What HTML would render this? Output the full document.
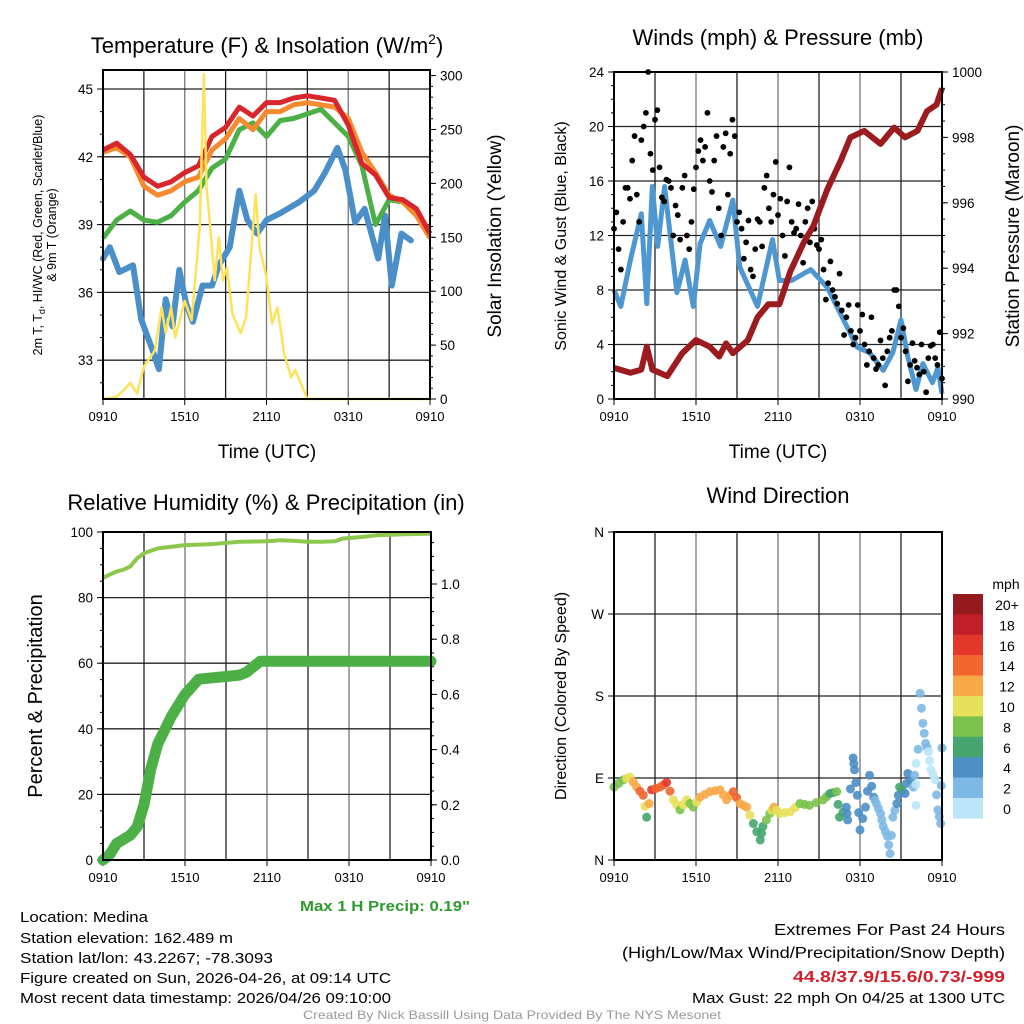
<!DOCTYPE html>
<html><head><meta charset="utf-8">
<style>
html,body{margin:0;padding:0;background:#fff;}
svg{display:block;font-family:"Liberation Sans",sans-serif;}
</style></head>
<body>
<svg id="fig" width="1024" height="1024" viewBox="0 0 1024 1024" xmlns="http://www.w3.org/2000/svg">
<rect width="1024" height="1024" fill="#fff"/>
<g id="p1"></g>
<g id="p2"></g>
<g id="p3"></g>
<g id="p4"></g>

<text x="267" y="53" font-size="22" text-anchor="middle">Temperature (F) &amp; Insolation (W/m<tspan dy="-9" font-size="14">2</tspan><tspan dy="9">)</tspan></text>
<text x="778" y="45" font-size="22" text-anchor="middle">Winds (mph) &amp; Pressure (mb)</text>
<text x="266" y="510" font-size="22" text-anchor="middle">Relative Humidity (%) &amp; Precipitation (in)</text>
<text x="778" y="503" font-size="22" text-anchor="middle">Wind Direction</text>

<text x="267" y="458" font-size="19" text-anchor="middle">Time (UTC)</text>
<text x="778" y="458" font-size="19" text-anchor="middle">Time (UTC)</text>

<text transform="translate(42,235) rotate(-90)" font-size="12.5" text-anchor="middle">2m T, T<tspan dy="3" font-size="9">d</tspan><tspan dy="-3">, HI/WC (Red, Green, Scarlet/Blue)</tspan></text>
<text transform="translate(56,235) rotate(-90)" font-size="12.5" text-anchor="middle">&amp; 9m T (Orange)</text>
<text transform="translate(501,236) rotate(-90)" font-size="19" text-anchor="middle">Solar Insolation (Yellow)</text>
<text transform="translate(566,236) rotate(-90)" font-size="16" text-anchor="middle">Sonic Wind &amp; Gust (Blue, Black)</text>
<text transform="translate(1019,236) rotate(-90)" font-size="19" text-anchor="middle">Station Pressure (Maroon)</text>
<text transform="translate(42,696) rotate(-90)" font-size="20" text-anchor="middle">Percent &amp; Precipitation</text>
<text transform="translate(566,696) rotate(-90)" font-size="16" text-anchor="middle">Direction (Colored By Speed)</text>

<text x="470" y="911" font-size="15" font-weight="bold" fill="#2e9a2e" text-anchor="end" textLength="170" lengthAdjust="spacingAndGlyphs">Max 1 H Precip: 0.19"</text>

<g font-size="15">
<text x="20" y="922" textLength="128" lengthAdjust="spacingAndGlyphs">Location: Medina</text>
<text x="20" y="943" textLength="213" lengthAdjust="spacingAndGlyphs">Station elevation: 162.489 m</text>
<text x="20" y="963" textLength="253" lengthAdjust="spacingAndGlyphs">Station lat/lon: 43.2267; -78.3093</text>
<text x="20" y="983" textLength="371" lengthAdjust="spacingAndGlyphs">Figure created on Sun, 2026-04-26, at 09:14 UTC</text>
<text x="20" y="1003" textLength="371" lengthAdjust="spacingAndGlyphs">Most recent data timestamp: 2026/04/26 09:10:00</text>
</g>
<g font-size="16" text-anchor="end">
<text x="1005" y="935" textLength="231" lengthAdjust="spacingAndGlyphs">Extremes For Past 24 Hours</text>
<text x="1005" y="958" textLength="383" lengthAdjust="spacingAndGlyphs">(High/Low/Max Wind/Precipitation/Snow Depth)</text>
<text x="1005" y="982" font-weight="bold" fill="#d0202a" textLength="212" lengthAdjust="spacingAndGlyphs">44.8/37.9/15.6/0.73/-999</text>
<text x="1005" y="1003" font-size="15" textLength="313" lengthAdjust="spacingAndGlyphs">Max Gust: 22 mph On 04/25 at 1300 UTC</text>
</g>
<text x="512" y="1019" font-size="12" fill="#999" text-anchor="middle" textLength="418" lengthAdjust="spacingAndGlyphs">Created By Nick Bassill Using Data Provided By The NYS Mesonet</text>

<g id="cbar"></g>
</svg>
<script>
// ---- data (hours since 0910 UTC) ----
const hourTicks = [0, 6, 12, 18, 24];
const timeLabels = ["0910", "1510", "2110", "0310", "0910"];
const tempHours = [0,1,2,3,4,5,6,7,8,9,10,11,12,13,14,15,16,17,18,19,20,21,22,23,24];
const tempRed = [42.3,42.6,42.1,41.1,40.7,40.9,41.3,41.6,42.9,43.3,44.2,43.8,44.4,44.4,44.6,44.7,44.6,44.5,43.4,41.7,41.2,40.2,40.1,39.7,38.6];
const tempOrange = [42.2,42.4,42.0,40.7,40.3,40.5,40.9,41.1,42.3,42.8,43.7,43.2,44.0,44.0,44.3,44.4,44.3,44.2,43.7,42.2,41.3,40.3,40.0,39.4,38.4];
const tempGreen = [38.4,39.2,39.6,39.2,39.1,39.4,40.0,40.5,41.5,41.9,43.2,43.5,42.9,43.6,43.7,43.9,44.1,43.5,42.9,41.6,39.0,40.1,40.0,39.5,38.6];
const dewHours = [0,0.5,1.2,2.2,2.8,3.6,4.1,4.6,5.1,5.6,6.1,6.6,7.3,8,8.5,9.3,10,10.6,11.3,12,13,14.4,15.5,16.3,17.2,17.8,18.5,19.2,20.2,20.7,21.2,21.9,22.6];
const dewPoint = [37.5,38.0,36.9,37.2,34.8,33.5,32.6,35.7,34.5,37.0,35.5,34.7,36.3,36.3,37.2,38.0,40.5,39.2,38.6,39.2,39.5,40.0,40.5,41.3,42.4,41.4,39.1,39.7,37.5,39.4,36.3,38.6,38.3];
const solarHours = [0,1,1.5,2,2.5,3,3.8,4.3,4.6,5.0,5.3,6.0,6.5,7.1,7.4,7.6,7.9,8.2,8.5,8.8,9.1,9.5,10.1,10.5,10.9,11.2,11.5,12,12.4,12.8,13.3,13.8,14.1,15,24];
const solarVals = [0,2,8,15,5,30,45,85,61,85,57,91,73,159,301,196,156,110,150,110,122,79,61,76,140,190,140,113,70,85,42,20,27,0,0];
const windHours = [0,0.5,1.2,2,2.4,2.8,3.2,3.7,4.6,5.2,5.8,6.3,7,7.8,8.7,9.2,10.5,11.6,12.1,13,14.4,15.6,16.8,17.8,18.7,19.7,20.4,21,21.5,22.1,22.6,23.3,23.7,24];
const windSpeed = [8.0,6.8,10.2,13.6,7.0,15.6,11.2,15.6,7.8,10.2,6.8,11.4,13.1,11.2,14.6,9.7,6.8,11.7,8.7,8.7,9.5,8.2,5.8,3.8,3.4,2.1,3.4,5.8,3.1,0.7,2.6,1.2,2.3,0.4];
const gustSpeed = [12.5,11,13,15.5,17.5,15,19,21,18,20.5,17,14.5,16,12,13.5,15.5,12,13,17,19,18.5,16,17.5,14,18.5,15,20.5,13,12.5,11.5,9.5,11,13,15.5,14,15,13.5,12,14.5,13,12.5,12,13,11.5,12.5,11,9.5,8.5,8,7,6.5,6,5,4.5,5,4,3.5,3,2.5,3,3.5,5,8,4.5,3.5,2.5,2.8,1.8,2,3,4,2.5,1.5];
const gustSpread = [1.2,-1.5,2.5,-0.8,1.8,-2,1,3,-1.2,0.7,-2.2,1.6,-0.5,2.2,-1.8,0.9,-1,2.4];
const pressHours = [0,1.2,2,2.4,2.8,3.9,5,6,7,7.7,8.2,8.7,9.8,10.5,11.3,12.1,12.9,13.9,14.6,15.6,16.6,17.3,18.3,19.5,20.5,21.3,22.2,22.9,23.6,24];
const pressure = [990.95,990.8,990.9,991.6,990.9,990.7,991.4,991.8,991.6,991.3,991.7,991.4,991.8,992.5,992.9,992.9,993.9,994.8,995.3,996.4,997.3,998.0,998.2,997.8,998.3,998.0,998.2,998.8,999.0,999.5];
const rhHours = [0,0.5,1,1.5,2,2.5,3,4,6,8,10,12,13,14,15,16,17,17.5,19,20,22,24];
const rhVals = [86,87,88,88.5,89.5,92,93.5,95,96,96.3,97,97.2,97.5,97.3,97,97,97.2,98,98.5,99,99.3,99.5];
const precipHours = [0,0.5,1,2,2.5,3,3.5,4,5,6,7,8,9,10,10.5,11,11.5,24];
const precipVals = [0,0.02,0.06,0.09,0.12,0.2,0.33,0.42,0.52,0.6,0.655,0.66,0.665,0.67,0.68,0.70,0.72,0.72];
const dirHours = [0,0.68,1.17,1.66,2.14,2.39,2.75,3.37,3.85,4.34,4.83,5.32,5.8,6.29,7.02,7.75,8.24,8.73,9.22,9.71,10.2,10.7,10.9,11.4,11.7,12.1,12.9,13.6,14.3,15.3,15.8,16.3,16.5,17.0,17.1,17.5,17.6,17.8,18.0,18.4,18.7,19.0,19.2,19.5,19.7,20.0,20.2,20.4,20.7,20.9,21.3,21.5,21.9,22.1,22.1,22.4,22.6,22.8,23.0,23.2,23.5,23.7,23.9,24.0];
const dirDeg = [80,88,91,80,71,47,77,80,85,66,55,66,58,69,75,77,66,75,62,58,40,22,37,51,58,51,53,62,60,66,73,75,47,58,44,112,99,71,33,58,93,69,62,51,37,26,7,47,62,80,73,95,80,106,60,183,150,128,119,99,88,55,40,123];
const dirSpeed = [9,9,11,13,15,7,17,14,17,11,9,11,8,12,13,13,12,15,13,13,7,7,7,9,13,10,11,9,9,9,7,8,7,5,5,5,5,5,5,5,5,4,3,3,3,3,3,3,4,7,5,5,3,1,1,3,3,3,1,1,1,3,3,3];
const cbarLabels = ["20+","18","16","14","12","10","8","6","4","2","0"];
const cbarColors = ["#951a1d","#c11f27","#e2372a","#f2652d","#f9a847","#e7e05a","#7bc24c","#46a56f","#4b8fc5","#7db9e4","#bde5f8"];

const NS = "http://www.w3.org/2000/svg";
function mk(parent, tag, attrs, txt){
  const e = document.createElementNS(NS, tag);
  for (const k in attrs) e.setAttribute(k, attrs[k]);
  if (txt !== undefined) e.textContent = txt;
  parent.appendChild(e); return e;
}
function pathFrom(xs, ys, fx, fy){
  let d = "";
  for (let i=0;i<xs.length;i++) d += (i?"L":"M") + fx(xs[i]).toFixed(1) + "," + fy(ys[i]).toFixed(1);
  return d;
}
function frame(g, x0, x1, y0, y1, nameBase){
  // vertical grid every 3 hours
  for (let h=3; h<24; h+=3){
    const x = x0 + h*(x1-x0)/24;
    const l = mk(g,"line",{x1:x,x2:x,y1:y0,y2:y1,stroke:(h%6===0)?"#777":"#222","stroke-width":1.3});
    
    
  }
  hourTicks.forEach((h,i)=>{
    const x = x0 + h*(x1-x0)/24;
    mk(g,"line",{x1:x,x2:x,y1:y1,y2:y1+6,stroke:"#000","stroke-width":1});
    const t = mk(g,"text",{x:x,y:y1+22,"font-size":13,"text-anchor":"middle"},timeLabels[i]);
    
    
  });
}
function box(g,x0,x1,y0,y1){
  const r = mk(g,"rect",{x:x0,y:y0,width:x1-x0,height:y1-y0,fill:"none",stroke:"#000","stroke-width":2});
  
  
}
function hgrid(g,x0,x1,y){ mk(g,"line",{x1:x0,x2:x1,y1:y,y2:y,stroke:"#222","stroke-width":1.3}); }
function ytick(g,x,y,label,side,len){
  mk(g,"line",{x1:x,x2:x+(side<0?-len:len),y1:y,y2:y,stroke:"#000","stroke-width":1});
  if (label!==null){
    const t = mk(g,"text",{x:x+(side<0?-10:10),y:y+5,"font-size":13.5,"text-anchor":side<0?"end":"start"},label);
    
    
  }
}

// ---- Panel 1 ----
(function(){
  const g = document.getElementById("p1");
  const x0=103,x1=430,y0=70,y1=399;
  const sx = h => x0 + h*(x1-x0)/24;
  const sy = T => 89 + (45-T)*22.6;
  const sv = v => 399 - v*1.078;
  frame(g,x0,x1,y0,y1,"temp");
  [45,42,39,36,33].forEach(T=>{ hgrid(g,x0,x1,sy(T)); ytick(g,x0,sy(T),String(T),-1,6); });
  for (let T=32; T<=46; T++) if (sy(T)>y0 && sy(T)<y1) ytick(g,x0,sy(T),null,-1,3);
  [0,50,100,150,200,250,300].forEach(v=>ytick(g,x1,sv(v),String(v),1,6));
  for (let v=10; v<=300; v+=10) ytick(g,x1,sv(v),null,1,3);
  const dp = mk(g,"path",{d:pathFrom(dewHours,dewPoint,sx,sy),fill:"none",stroke:"#4a8fc8","stroke-width":6,"stroke-linejoin":"round","stroke-linecap":"round"});
  
  
  const gr = mk(g,"path",{d:pathFrom(tempHours,tempGreen,sx,sy),fill:"none",stroke:"#4cb046","stroke-width":5,"stroke-linejoin":"round"});
  
  
  const or = mk(g,"path",{d:pathFrom(tempHours,tempOrange,sx,sy),fill:"none",stroke:"#f58a2e","stroke-width":5,"stroke-linejoin":"round"});
  
  
  const rd = mk(g,"path",{d:pathFrom(tempHours,tempRed,sx,sy),fill:"none",stroke:"#d8262b","stroke-width":5,"stroke-linejoin":"round"});
  
  
  const so = mk(g,"path",{d:pathFrom(solarHours,solarVals,sx,sv),fill:"none",stroke:"#fde25a","stroke-width":2.5,"stroke-linejoin":"round"});
  
  
  box(g,x0,x1,y0,y1);
})();

// ---- Panel 2 ----
(function(){
  const g = document.getElementById("p2");
  const x0=614,x1=942,y0=72,y1=399;
  const sx = h => x0 + h*(x1-x0)/24;
  const sy = v => 399 - v*13.625;
  const sp = p => 399 - (p-990)*32.7;
  frame(g,x0,x1,y0,y1,"wind");
  [0,4,8,12,16,20,24].forEach(v=>{ if(v>0&&v<24) hgrid(g,x0,x1,sy(v)); ytick(g,x0,sy(v),String(v),-1,6); });
  for (let v=1; v<24; v++) ytick(g,x0,sy(v),null,-1,3);
  [990,992,994,996,998,1000].forEach(p=>ytick(g,x1,sp(p),String(p),1,6));
  for (let p=990.5; p<1000; p+=0.5) ytick(g,x1,sp(p),null,1,3);
  const wl = mk(g,"path",{d:pathFrom(windHours,windSpeed,sx,sy),fill:"none",stroke:"#4f97d0","stroke-width":5,"stroke-linejoin":"round"});
  
  
  gustSpeed.forEach((v,i)=>{
    const h = Math.min(24, i/3);
    const c = mk(g,"circle",{cx:sx(h),cy:sy(v),r:2.9,fill:"#000"});
    
    
    if (i < gustSpeed.length-1){
      const v2 = Math.max(0.5, v + gustSpread[i%gustSpread.length]);
      const c2 = mk(g,"circle",{cx:sx(h+0.17),cy:sy(v2),r:2.9,fill:"#000"});
      
      
    }
  });
  const pl = mk(g,"path",{d:pathFrom(pressHours,pressure,sx,sp),fill:"none",stroke:"#9b1b1e","stroke-width":6,"stroke-linejoin":"round"});
  
  
  box(g,x0,x1,y0,y1);
})();

// ---- Panel 3 ----
(function(){
  const g = document.getElementById("p3");
  const x0=103,x1=431,y0=532,y1=860;
  const sx = h => x0 + h*(x1-x0)/24;
  const sy = r => 860 - r*3.28;
  const sq = p => 860 - p*276;
  frame(g,x0,x1,y0,y1,"rh");
  [0,20,40,60,80,100].forEach(r=>{ if(r>0&&r<100) hgrid(g,x0,x1,sy(r)); ytick(g,x0,sy(r),String(r),-1,6); });
  for (let r=5; r<100; r+=5) ytick(g,x0,sy(r),null,-1,3);
  [0,0.2,0.4,0.6,0.8,1.0].forEach(p=>ytick(g,x1,sq(p),p.toFixed(1),1,6));
  for (let p=0.05; p<1.18; p+=0.05) ytick(g,x1,sq(p),null,1,3);
  const pr = mk(g,"path",{d:pathFrom(precipHours,precipVals,sx,sq),fill:"none",stroke:"#4cb046","stroke-width":11,"stroke-linejoin":"round","stroke-linecap":"round"});
  
  
  const rh = mk(g,"path",{d:pathFrom(rhHours,rhVals,sx,sy),fill:"none",stroke:"#8cc84b","stroke-width":4,"stroke-linejoin":"round"});
  
  
  box(g,x0,x1,y0,y1);
})();

// ---- Panel 4 ----
(function(){
  const g = document.getElementById("p4");
  const x0=614,x1=942,y0=532,y1=860;
  const sx = h => x0 + h*(x1-x0)/24;
  const sy = d => 860 - d*(328/360);
  frame(g,x0,x1,y0,y1,"dir");
  const dl = ["N","E","S","W","N"];
  [0,90,180,270,360].forEach((d,i)=>{ if(d>0&&d<360) hgrid(g,x0,x1,sy(d)); ytick(g,x0,sy(d),dl[i],-1,6); });
  const colorFor = s => cbarColors[10 - Math.min(10, Math.floor(s/2))];
  dirDeg.forEach((d,i)=>{
    const c = mk(g,"circle",{cx:sx(dirHours[i]),cy:sy(d),r:4.5,fill:colorFor(dirSpeed[i]),"fill-opacity":0.9});
    
    
    if (i < dirDeg.length-1){
      const h2 = (dirHours[i]+dirHours[i+1])/2, d2 = (d+dirDeg[i+1])/2;
      const c2 = mk(g,"circle",{cx:sx(h2),cy:sy(d2),r:4.5,fill:colorFor((dirSpeed[i]+dirSpeed[i+1])/2),"fill-opacity":0.9});
      
      
    }
  });
  box(g,x0,x1,y0,y1);
})();

// ---- Colorbar ----
(function(){
  const g = document.getElementById("cbar");
  const t = mk(g,"text",{x:1006,y:589,"font-size":14,"text-anchor":"middle"},"mph");
  
  
  cbarColors.forEach((c,i)=>{
    const y = 594 + i*20.4;
    const r = mk(g,"rect",{x:953,y:y,width:30,height:20.6,fill:c});
    
    
    const l = mk(g,"text",{x:1007,y:y+16,"font-size":14,"text-anchor":"middle"},cbarLabels[i]);
    
    
  });
})();
</script>
</body></html>
